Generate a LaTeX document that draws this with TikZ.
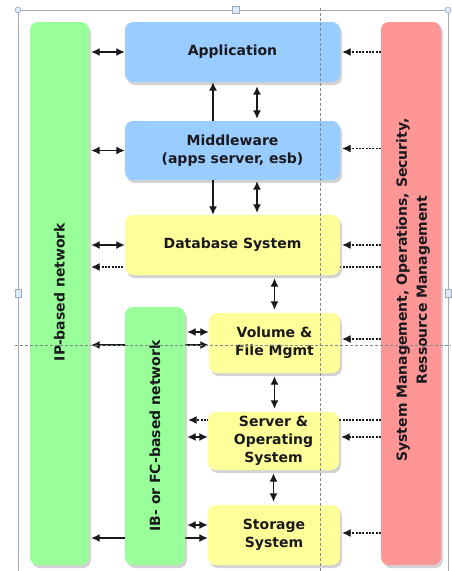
\documentclass[tikz,border=0pt]{standalone}
\usepackage{fontspec}
\setmainfont{DejaVu Sans}
\usetikzlibrary{arrows.meta,shadows,backgrounds}
\definecolor{appblue}{RGB}{153,204,255}
\definecolor{sysyellow}{RGB}{255,255,153}
\definecolor{netgreen}{RGB}{153,255,153}
\definecolor{mgmtred}{RGB}{255,150,150}
\definecolor{framegray}{RGB}{160,170,185}
\definecolor{handleblue}{RGB}{220,235,250}
\definecolor{inkdark}{RGB}{25,25,30}

\begin{document}
\begin{tikzpicture}[x=1pt,y=-1pt,
    >={Latex[length=8.5pt,width=8pt]},
    layer/.style={draw=none,rounded corners=8pt,align=center,inner sep=0pt,
      text=inkdark,font=\bfseries\fontsize{14}{18}\selectfont,
      drop shadow={shadow xshift=2pt,shadow yshift=-3pt,opacity=0.35}},
    bar/.style={layer},
    bartext/.style={align=center,inner sep=0pt,text=inkdark,font=\bfseries\fontsize{14}{20}\selectfont},
    link/.style={line width=1.3pt,inkdark},
    mgmtlink/.style={line width=1.1pt,inkdark,dash pattern=on 2pt off 1.3pt},
    guide/.style={framegray!80!black,line width=0.8pt,dash pattern=on 3pt off 2pt},
    handle/.style={draw=framegray,fill=handleblue,line width=0.6pt}]
  \useasboundingbox (0,0) rectangle (451,571);
  % frame of the selection
  \draw[framegray,line width=0.8pt] (18,571) -- (18,10) -- (448,10) -- (448,571);

  % networks and management
  \node[bar,fill=netgreen,minimum width=59,minimum height=543] (ipnet) at (59.5,293.5) {};
  \node[bartext,rotate=90] (iplabel) at (59.5,292) {IP-based network};
  \node[bar,fill=netgreen,minimum width=60,minimum height=258] (ibnet) at (155,436) {};
  \node[bartext,rotate=90] (iblabel) at (155,436) {IB- or FC-based network};
  \node[bar,fill=mgmtred,minimum width=60,minimum height=543] (mgmt) at (411,293.5) {};
  \node[bartext,rotate=90] (mgmtlabel) at (413,290) {System Management, Operations, Security,\\Ressource Management};

  % layers
  \node[layer,fill=appblue,minimum width=215,minimum height=60] (app) at (232.5,52) {Application};
  \node[layer,fill=appblue,minimum width=215,minimum height=59] (mid) at (232.5,150.5) {Middleware\\(apps server, esb)};
  \node[layer,fill=sysyellow,minimum width=215,minimum height=60] (db) at (232.5,245) {Database System};
  \node[layer,fill=sysyellow,minimum width=131,minimum height=60] (vol) at (274.5,343) {Volume \&\\File Mgmt};
  \node[layer,fill=sysyellow,minimum width=131,minimum height=58] (srv) at (273.5,441) {Server \&\\Operating\\System};
  \node[layer,fill=sysyellow,minimum width=132,minimum height=60] (sto) at (274,535) {Storage\\System};

  \coordinate (dbdash) at ([yshift=-22pt]db.west);
  \coordinate (srvdash) at ([yshift=21pt]srv.west);
  \coordinate (volline) at ([yshift=-2pt]vol.west);
  \coordinate (stoline) at ([yshift=-3pt]sto.west);
  \coordinate (volib) at ([yshift=11pt]vol.west);
  \coordinate (srvib) at ([yshift=4pt]srv.west);
  \coordinate (stoib) at ([yshift=10pt]sto.west);
  \coordinate (midmg) at ([yshift=2pt]mid.east);
  \coordinate (volmg) at ([yshift=4pt]vol.east);
  \coordinate (srvmg) at ([yshift=4pt]srv.east);
  \coordinate (stomg) at ([yshift=2pt]sto.east);

  % lines running behind boxes
  \begin{scope}[on background layer]
    \draw[mgmtlink,->,shorten >=2pt] (mgmt.west |- dbdash) -- (ipnet.east |- dbdash);
    \draw[mgmtlink,->,shorten >=3pt] (mgmt.west |- srvdash) -- (ibnet.east |- srvdash);
    \draw[link,<->,shorten <=2pt] (ipnet.east |- volline) -- (volline);
    \draw[link,<->,shorten <=2pt] (ipnet.east |- stoline) -- (stoline);
  \end{scope}

  % IP network
  \draw[link,<->,shorten <=2pt] (ipnet.east |- app) -- (app.west);
  \draw[link,<->,shorten <=2pt] (ipnet.east |- mid) -- (mid.west);
  \draw[link,<->,shorten <=2pt] (ipnet.east |- db) -- (db.west);

  % IB/FC network
  \draw[link,<->,shorten <=2pt] (ibnet.east |- volib) -- (volib);
  \draw[link,<->,shorten <=2pt] (ibnet.east |- srvib) -- (srvib);
  \draw[link,<->,shorten <=2pt] (ibnet.east |- stoib) -- (stoib);

  % between layers
  \draw[link,->] ([xshift=-19.5pt]mid.north) -- ([xshift=-19.5pt]app.south);
  \draw[link,<->,shorten <=4pt,shorten >=2pt] ([xshift=24.5pt]app.south) -- ([xshift=24.5pt]mid.north);
  \draw[link,->] ([xshift=-19.5pt]mid.south) -- ([xshift=-19.5pt]db.north);
  \draw[link,<->,shorten <=1pt,shorten >=2pt] ([xshift=24.5pt]mid.south) -- ([xshift=24.5pt]db.north);
  \draw[link,<->,shorten <=3pt,shorten >=3pt] (db.south -| vol) -- (vol.north);
  \draw[link,<->,shorten <=3pt,shorten >=3pt] (vol.south) -- (vol.south |- srv.north);
  \draw[link,<->,shorten <=3pt,shorten >=3pt] (srv.south) -- (srv.south |- sto.north);

  % management
  \draw[mgmtlink,->,shorten >=2pt] (mgmt.west |- app) -- (app.east);
  \draw[mgmtlink,->,shorten >=2pt] (mgmt.west |- midmg) -- (midmg);
  \draw[mgmtlink,->,shorten >=2pt] (mgmt.west |- db) -- (db.east);
  \draw[mgmtlink,->,shorten >=2pt] (mgmt.west |- volmg) -- (volmg);
  \draw[mgmtlink,->,shorten >=2pt] (mgmt.west |- srvmg) -- (srvmg);
  \draw[mgmtlink,->,shorten >=2pt] (mgmt.west |- stomg) -- (stomg);

  % guides and handles
  \draw[guide] (320,8) -- (320,571);
  \draw[guide] (15,345) -- (451,345);
  \draw[handle] (18,10) circle (3);
  \draw[handle] (448,10) circle (3);
  \draw[handle] (232,6) rectangle (239,13);
  \draw[handle] (15,289) rectangle (21,297);
  \draw[handle] (445,289) rectangle (451,297);
\end{tikzpicture}
\end{document}
